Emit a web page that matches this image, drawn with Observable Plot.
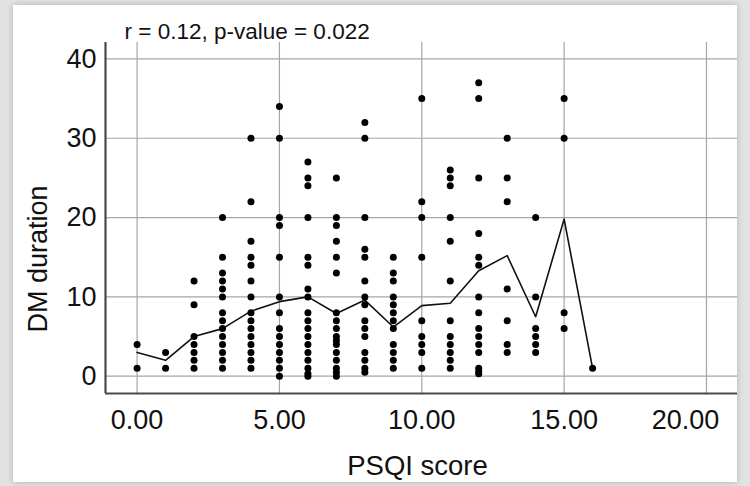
<!DOCTYPE html>
<html>
<head>
<meta charset="utf-8">
<script src="https://cdn.jsdelivr.net/npm/d3@7"></script>
<script src="https://cdn.jsdelivr.net/npm/@observablehq/plot@0.6"></script>
<style>
  html, body { margin: 0; padding: 0; }
  body { width: 750px; height: 486px; background: #e2e2e2; position: relative; overflow: hidden; }
  #panel { position: absolute; left: 13px; top: 5px; width: 724px; height: 477px; background: #fff;
           box-shadow: 0 0 6px rgba(0,0,0,0.22); }
  #chart { position: absolute; left: 0; top: 0; }
  #chart svg { background: transparent; }
</style>
</head>
<body>
<div id="panel"></div>
<div id="chart"></div>
<script>
// ---- data ----
const psqiScores = [0, 1, 2, 3, 4, 5, 6, 7, 8, 9, 10, 11, 12, 13, 14, 15, 16];
const dmDurations = [
  [4, 1],
  [3, 1],
  [12, 9, 5, 4, 3, 2, 1],
  [20, 15, 13, 12, 11, 10, 8, 7, 6, 5, 4, 3, 2, 1],
  [30, 22, 17, 15, 14, 12, 10, 8, 7, 6, 5, 4, 3, 2, 1],
  [34, 30, 20, 19, 15, 10, 8, 6, 5, 4, 3, 2, 1, 0],
  [27, 25, 24, 20, 15, 14, 11, 10, 8, 7, 6, 5, 4, 3, 2, 1, 0.3, 0],
  [25, 20, 19, 17, 15, 13, 8, 7, 6, 5, 4.5, 4, 3, 2, 1, 0.5, 0],
  [32, 30, 20, 16, 15, 12, 10, 9, 7, 6, 5, 3, 2, 1, 0.5],
  [15, 13, 12, 10, 9, 8, 7, 6, 4, 3, 2, 1],
  [35, 22, 20, 15, 7, 5, 4, 3, 1],
  [26, 25, 24, 20, 17, 12, 7, 5, 4, 3, 2, 1],
  [37, 35, 25, 18, 15, 14, 10, 8, 6, 5, 4, 3, 1, 0.6, 0.3],
  [30, 25, 22, 11, 7, 4, 3],
  [20, 10, 6, 5, 4, 3],
  [35, 30, 8, 6],
  [1]
];
const meanDurations = [3.0, 2.0, 5.0, 6.0, 8.2, 9.4, 10.0, 7.9, 9.6, 6.2, 8.9, 9.2, 13.3, 15.2, 7.5, 19.8, 1.0];
const xTicks = [0, 5, 10, 15];
const xTicksEdge = [20];
const yTicks = [0, 10, 20, 30, 40];
const xGrid = [0, 5, 10, 15, 20];
const xDomain = [-1.11, 21.09];
const yDomain = [-2.18, 42.07];
const titleText = "r = 0.12, p-value = 0.022";
const xLabel = "PSQI score";
const yLabel = "DM duration";

// ---- build tables ----
const points = psqiScores.flatMap((s, i) => dmDurations[i].map(d => ({psqi: s, dm: d})));
const means = psqiScores.map((s, i) => ({psqi: s, dm: meanDurations[i]}));

const font = "'Liberation Sans', Arial, Helvetica, sans-serif";
const gridColor = "#a6a6a6";
const axisColor = "#4a4a4a";
const fmt = d3.format(".2f");

const chart = Plot.plot({
  width: 750,
  height: 486,
  marginTop: 42,
  marginBottom: 93,
  marginLeft: 105,
  marginRight: 13,
  style: {fontFamily: font, background: "transparent", color: "#111"},
  x: {domain: xDomain, axis: null},
  y: {domain: yDomain, axis: null},
  marks: [
    Plot.gridX(xGrid, {stroke: gridColor, strokeOpacity: 1, strokeWidth: 1.2}),
    Plot.gridY(yTicks, {stroke: gridColor, strokeOpacity: 1, strokeWidth: 1.2}),
    Plot.ruleX([xDomain[0]], {stroke: axisColor, strokeWidth: 2.2}),
    Plot.ruleY([yDomain[0]], {stroke: axisColor, strokeWidth: 2.2}),
    Plot.axisX(xTicks, {tickSize: 0, tickPadding: 16, fontSize: 27, tickFormat: fmt, label: null, fill: "#111"}),
    Plot.axisX(xTicksEdge, {tickSize: 0, tickPadding: 16, fontSize: 27, tickFormat: fmt, label: null, fill: "#111", dx: -21}),
    Plot.axisY(yTicks, {tickSize: 0, tickPadding: 9, fontSize: 27, label: null, fill: "#111"}),
    Plot.line(means, {x: "psqi", y: "dm", stroke: "#111", strokeWidth: 1.6}),
    Plot.dot(points, {x: "psqi", y: "dm", r: 3.5, fill: "#000", stroke: "none"}),
    Plot.text([titleText], {frameAnchor: "top-left", dx: 19, dy: -11, textAnchor: "start", lineAnchor: "middle", fontSize: 22.5, fill: "#111"}),
    Plot.text([xLabel], {frameAnchor: "bottom", dx: -4, dy: 73, lineAnchor: "middle", fontSize: 27.5, fill: "#111"}),
    Plot.text([yLabel], {frameAnchor: "left", dx: -67, dy: 41, rotate: -90, lineAnchor: "middle", textAnchor: "middle", fontSize: 27, fill: "#111"})
  ]
});
document.getElementById("chart").appendChild(chart);
</script>
</body>
</html>
